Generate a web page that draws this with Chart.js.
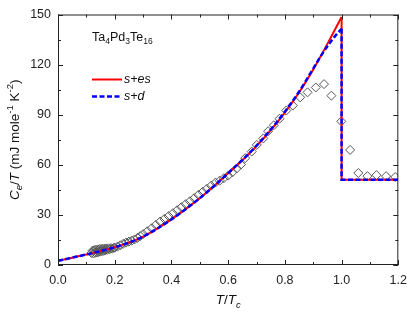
<!DOCTYPE html>
<html>
<head>
<meta charset="utf-8">
<script src="https://cdn.jsdelivr.net/npm/chart.js@4.4.1/dist/chart.umd.min.js"></script>
<style>
  html, body { margin: 0; padding: 0; background: #fff; }
  #wrap { width: 415px; height: 315px; }
</style>
</head>
<body>
<div id="wrap"><canvas id="ce-chart" width="415" height="315"></canvas></div>
<script>
// measured data (diamonds)
const tData = [0.118, 0.122, 0.125, 0.128, 0.131, 0.134, 0.137, 0.140, 0.143, 0.146, 0.149, 0.152, 0.155, 0.158,
  0.161, 0.164, 0.167, 0.170, 0.174, 0.178, 0.182, 0.187, 0.192, 0.197,
  0.200, 0.210, 0.220, 0.230, 0.240, 0.250, 0.260, 0.270, 0.280, 0.290, 0.300, 0.315, 0.330, 0.345, 0.360, 0.375,
  0.390, 0.405, 0.420, 0.435, 0.450, 0.465, 0.480, 0.495, 0.510, 0.525, 0.540, 0.555, 0.570, 0.585, 0.600, 0.615,
  0.630, 0.645, 0.660, 0.683, 0.701, 0.724, 0.741, 0.761, 0.781, 0.805, 0.828, 0.854, 0.880, 0.909, 0.938, 0.964,
  0.999, 1.030, 1.059, 1.091, 1.123, 1.157, 1.189];
const ceData = [7.2, 8.6, 6.9, 8.9, 7.3, 9.1, 7.5, 9.3, 7.8, 9.5, 8.0, 9.6, 8.3, 9.7,
  8.5, 9.8, 8.8, 9.9, 9.1, 10.0, 9.4, 10.1, 9.8, 10.3,
  10.4, 11.0, 11.8, 12.7, 13.4, 14.0, 14.6, 15.3, 16.2, 17.3, 18.5, 20.2, 22.0, 24.0, 26.0, 27.6,
  29.3, 31.0, 32.8, 34.6, 36.4, 38.2, 40.0, 42.0, 43.8, 45.6, 47.5, 49.3, 50.5, 52.0, 53.5, 55.5,
  57.8, 60.1, 64.0, 67.9, 71.9, 75.8, 80.1, 83.7, 87.6, 92.5, 95.5, 100.4, 103.4, 106.3, 108.3, 101.4,
  86.0, 68.9, 55.1, 53.2, 53.8, 53.2, 52.7];

// s+es fit, below Tc
const sesT = [0, 0.05, 0.10, 0.15, 0.20, 0.25, 0.30, 0.35, 0.40, 0.45, 0.50, 0.55, 0.60, 0.65, 0.70, 0.75, 0.80, 0.85, 0.90, 0.95, 1.00];
const sesCe = [2.5, 4.4, 6.3, 8.3, 10.6, 13.4, 17.0, 21.8, 27.3, 33.4, 40.0, 47.3, 55.0, 62.7, 71.2, 80.7, 91.3, 103.3, 117.1, 132.4, 148.5];

// s+d fit, below Tc
const sdT = [0, 0.05, 0.10, 0.15, 0.20, 0.25, 0.30, 0.35, 0.40, 0.45, 0.50, 0.55, 0.60, 0.65, 0.70, 0.75, 0.80, 0.85, 0.90, 0.925, 0.95, 0.975, 1.00];
const sdCe = [2.5, 4.4, 6.3, 8.3, 10.6, 13.4, 17.0, 21.8, 27.3, 33.4, 40.0, 47.3, 55.0, 62.9, 71.5, 81.1, 91.8, 103.8, 117.6, 124.6, 131.0, 136.6, 141.5];

// jump at Tc and normal state (both fits)
const jumpT = [1.0, 1.0, 1.2];
const sesJump = [148.5, 51, 51];
const sdJump = [141.5, 51, 51];

const xTicks = [0, 0.2, 0.4, 0.6, 0.8, 1.0, 1.2];
const yTicks = [0, 30, 60, 90, 120, 150];

const FONT = '"Liberation Sans", Arial, sans-serif';
const RED = '#ff0000';
const BLUE = '#0000ff';

function toPts(xs, ys) {
  return xs.map((x, i) => ({ x, y: ys[i] }));
}

function midpoints(arr) {
  const out = [];
  for (let i = 0; i < arr.length - 1; i++) out.push((arr[i] + arr[i + 1]) / 2);
  return out;
}

// draw text pieces: [text, size, italic, shift]
function drawRich(ctx, parts, x, y, align) {
  let total = 0;
  for (const p of parts) {
    ctx.font = `${p[2] ? 'italic ' : ''}${p[1]}px ${FONT}`;
    p.w = ctx.measureText(p[0]).width;
    total += p.w;
  }
  let cx = align === 'center' ? x - total / 2 : x;
  for (const p of parts) {
    ctx.font = `${p[2] ? 'italic ' : ''}${p[1]}px ${FONT}`;
    ctx.fillText(p[0], cx, y + p[3]);
    cx += p.w;
  }
}

const framePlugin = {
  id: 'framePlugin',
  afterDatasetsDraw(chart) {
    const { ctx, chartArea: a, scales: { x, y } } = chart;
    ctx.save();
    ctx.strokeStyle = '#222';
    ctx.lineWidth = 1;
    ctx.strokeRect(a.left + 0.5, a.top + 0.5, a.right - a.left - 1, a.bottom - a.top - 1);

    const tick = (px, len, vertical) => {
      ctx.beginPath();
      if (vertical) {
        ctx.moveTo(px, a.bottom); ctx.lineTo(px, a.bottom - len);
        ctx.moveTo(px, a.top); ctx.lineTo(px, a.top + len);
      } else {
        ctx.moveTo(a.left, px); ctx.lineTo(a.left + len, px);
        ctx.moveTo(a.right, px); ctx.lineTo(a.right - len, px);
      }
      ctx.stroke();
    };
    xTicks.forEach(v => tick(Math.round(x.getPixelForValue(v)) + 0.5, 5, true));
    midpoints(xTicks).forEach(v => tick(Math.round(x.getPixelForValue(v)) + 0.5, 3, true));
    yTicks.forEach(v => tick(Math.round(y.getPixelForValue(v)) + 0.5, 5, false));
    midpoints(yTicks).forEach(v => tick(Math.round(y.getPixelForValue(v)) + 0.5, 3, false));
    ctx.restore();
  },
  afterDraw(chart) {
    const { ctx, chartArea: a } = chart;
    ctx.save();
    ctx.fillStyle = '#111';
    ctx.textBaseline = 'alphabetic';

    // compound label
    drawRich(ctx, [['Ta', 12.5, false, 0], ['4', 8.5, false, 3], ['Pd', 12.5, false, 0], ['3', 8.5, false, 3],
      ['Te', 12.5, false, 0], ['16', 8.5, false, 3]], 92, 40.5, 'left');

    // legend
    ctx.strokeStyle = RED;
    ctx.lineWidth = 2;
    ctx.beginPath(); ctx.moveTo(92, 79.5); ctx.lineTo(122, 79.5); ctx.stroke();
    ctx.strokeStyle = BLUE;
    ctx.lineWidth = 2.5;
    ctx.setLineDash([5, 2.5]);
    ctx.beginPath(); ctx.moveTo(92, 96.5); ctx.lineTo(122, 96.5); ctx.stroke();
    ctx.setLineDash([]);
    ctx.textBaseline = 'middle';
    ctx.font = `italic 12.5px ${FONT}`;
    ctx.fillText('s+es', 124, 79.5);
    ctx.fillText('s+d', 124, 96.5);

    // x title
    ctx.textBaseline = 'alphabetic';
    drawRich(ctx, [['T', 13.5, true, 0], ['/', 13.5, false, 0], ['T', 13.5, true, 0], ['c', 9.5, true, 3.5]],
      (a.left + a.right) / 2, 304, 'center');

    // y title
    ctx.translate(18.5, (a.top + a.bottom) / 2);
    ctx.rotate(-Math.PI / 2);
    drawRich(ctx, [['C', 13.5, true, 0], ['e', 9.5, true, 3.5], ['/', 13.5, false, 0], ['T', 13.5, true, 0],
      [' (mJ mole', 13.5, false, 0], ['-1', 9.5, false, -5.5], [' K', 13.5, false, 0], ['-2', 9.5, false, -5.5],
      [')', 13.5, false, 0]], 0, 0, 'center');
    ctx.restore();
  }
};

const lineBase = { showLine: true, pointRadius: 0, fill: false };

const ctx = document.getElementById('ce-chart');
new Chart(ctx, {
  type: 'scatter',
  data: {
    datasets: [
      { ...lineBase, label: 's+d', data: toPts(sdT, sdCe), borderColor: BLUE, borderWidth: 2.5, borderDash: [5, 2.5], cubicInterpolationMode: 'monotone' },
      { ...lineBase, label: 's+d jump', data: toPts(jumpT, sdJump), borderColor: BLUE, borderWidth: 2.5, borderDash: [5, 2.5] },
      { ...lineBase, label: 's+es', data: toPts(sesT, sesCe), borderColor: RED, borderWidth: 2, cubicInterpolationMode: 'monotone' },
      { ...lineBase, label: 's+es jump', data: toPts(jumpT, sesJump), borderColor: RED, borderWidth: 2 },
      {
        label: 'data',
        data: toPts(tData, ceData),
        showLine: false,
        pointStyle: 'rectRot',
        pointRadius: 4.5,
        borderColor: '#555',
        borderWidth: 1,
        backgroundColor: 'rgba(255,255,255,0)'
      }
    ]
  },
  options: {
    responsive: false,
    animation: false,
    devicePixelRatio: 1,
    layout: { padding: { top: 11, right: 11, left: 0, bottom: 0 } },
    plugins: { legend: { display: false }, tooltip: { enabled: false } },
    scales: {
      x: {
        type: 'linear', min: 0, max: 1.2,
        grid: { display: false, drawTicks: false },
        border: { display: false },
        afterBuildTicks: s => { s.ticks = xTicks.map(v => ({ value: v })); },
        afterFit: s => { s.height = 50; },
        ticks: { padding: 8, color: '#222', font: { family: FONT, size: 12.5 }, maxRotation: 0, callback: v => v.toFixed(1) }
      },
      y: {
        type: 'linear', min: 0, max: 150,
        grid: { display: false, drawTicks: false },
        border: { display: false },
        afterBuildTicks: s => { s.ticks = yTicks.map(v => ({ value: v })); },
        afterFit: s => { s.width = 58; },
        ticks: { padding: 7, color: '#222', font: { family: FONT, size: 12.5 }, callback: v => String(v) }
      }
    }
  },
  plugins: [framePlugin]
});
</script>
</body>
</html>
